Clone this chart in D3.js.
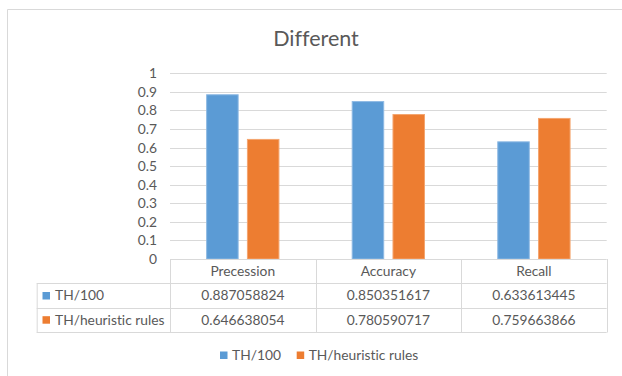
<!DOCTYPE html>
<html>
<head>
<meta charset="utf-8">
<script src="https://cdn.jsdelivr.net/npm/d3@7/dist/d3.min.js"></script>
<style>
  html, body { margin: 0; padding: 0; background: #fff; }
  svg { display: block; font-family: Lato, "Open Sans", sans-serif; font-variant-ligatures: none; }
</style>
</head>
<body>
<svg id="chart" width="622" height="376"></svg>
<script>
// Metrics per method
const categories = ["Precession", "Accuracy", "Recall"];
const seriesNames = ["TH/100", "TH/heuristic rules"];
const th100 = [0.887058824, 0.850351617, 0.633613445];
const thHeuristic = [0.646638054, 0.780590717, 0.759663866];
const valueLabels = [
  ["0.887058824", "0.850351617", "0.633613445"],
  ["0.646638054", "0.780590717", "0.759663866"]
];
const yTicks = [0, 0.1, 0.2, 0.3, 0.4, 0.5, 0.6, 0.7, 0.8, 0.9, 1];
const colors = ["#5B9BD5", "#ED7D31"];
const strokeColors = ["#8db9e3", "#f4a56f"];

const seriesValues = [th100, thHeuristic];

const svg = d3.select("#chart");
const gridColor = "#d9d9d9";
const textColor = "#595959";
const fontSize = 13.8;

// chart frame (top and left edges visible)
svg.append("line").attr("x1", 7.5).attr("x2", 622).attr("y1", 9.5).attr("y2", 9.5)
  .attr("stroke", gridColor).attr("stroke-width", 1);
svg.append("line").attr("x1", 7.5).attr("x2", 7.5).attr("y1", 9.5).attr("y2", 376)
  .attr("stroke", gridColor).attr("stroke-width", 1);

const plot = { left: 170, right: 606.7, top: 73.3, bottom: 259 };

const y = d3.scaleLinear().domain([0, 1]).range([plot.bottom, plot.top]);
const x = d3.scaleBand().domain(categories).range([plot.left, plot.right]).padding(0);
const x1 = d3.scaleBand().domain(seriesNames).range([0, x.bandwidth()])
  .paddingInner(0.203).paddingOuter(0.886);

// title
svg.append("text").attr("x", 316).attr("y", 46).attr("text-anchor", "middle")
  .attr("font-size", 21.5).attr("fill", textColor).text("Different");

// gridlines
svg.append("g").selectAll("line").data(yTicks.filter(d => d > 0)).join("line")
  .attr("x1", plot.left).attr("x2", plot.right)
  .attr("y1", d => Math.round(y(d)) + 0.5).attr("y2", d => Math.round(y(d)) + 0.5)
  .attr("stroke", gridColor).attr("stroke-width", 1);

// y axis labels
const yAxis = d3.axisLeft(y).tickValues(yTicks).tickSize(0).tickPadding(0)
  .tickFormat(d => d3.format("~g")(d));
const yg = svg.append("g").attr("transform", `translate(${plot.left - 13},0)`).call(yAxis);
yg.select(".domain").remove();
yg.selectAll("text").attr("fill", textColor).attr("font-size", fontSize)
  .attr("font-family", "Lato, 'Open Sans', sans-serif");

// bars
const groups = svg.append("g").selectAll("g").data(categories).join("g")
  .attr("transform", d => `translate(${x(d)},0)`);
groups.selectAll("rect")
  .data((c, i) => seriesNames.map((s, j) => ({ s, j, v: seriesValues[j][i] })))
  .join("rect")
  .attr("x", d => x1(d.s) + 0.5)
  .attr("width", x1.bandwidth() - 1)
  .attr("y", d => y(d.v) + 0.5)
  .attr("height", d => y(0) - y(d.v) - 0.5)
  .attr("fill", d => colors[d.j])
  .attr("stroke", d => strokeColors[d.j])
  .attr("stroke-width", 1);

// data table
const tableLeft = 36.7;
const rowEdges = [259, 283.3, 307.7, 331.7];
const tbl = svg.append("g").attr("stroke", gridColor).attr("stroke-width", 1);
// horizontal lines
tbl.append("line").attr("x1", plot.left).attr("x2", plot.right)
  .attr("y1", rowEdges[0] + 0.5).attr("y2", rowEdges[0] + 0.5);
rowEdges.slice(1).forEach(r => {
  tbl.append("line").attr("x1", tableLeft).attr("x2", plot.right)
    .attr("y1", Math.round(r) + 0.5).attr("y2", Math.round(r) + 0.5);
});
// vertical lines
const colEdges = categories.map(c => x(c)).concat([plot.right]);
colEdges.forEach(cx => {
  tbl.append("line").attr("x1", Math.round(cx) + 0.5).attr("x2", Math.round(cx) + 0.5)
    .attr("y1", rowEdges[0]).attr("y2", Math.round(rowEdges[3]) + 0.5);
});
tbl.append("line").attr("x1", tableLeft + 0.5).attr("x2", tableLeft + 0.5)
  .attr("y1", Math.round(rowEdges[1]) + 0.5).attr("y2", Math.round(rowEdges[3]) + 0.5);

// category header
svg.append("g").selectAll("text").data(categories).join("text")
  .attr("x", d => x(d) + x.bandwidth() / 2).attr("y", (rowEdges[0] + rowEdges[1]) / 2)
  .attr("dy", "0.35em").attr("text-anchor", "middle")
  .attr("font-size", fontSize).attr("fill", textColor).text(d => d);

// value rows
seriesNames.forEach((s, j) => {
  const cy = (rowEdges[j + 1] + rowEdges[j + 2]) / 2;
  svg.append("rect").attr("x", 42.5).attr("y", cy - 3.5).attr("width", 7.5).attr("height", 7.5)
    .attr("fill", colors[j]);
  svg.append("text").attr("x", 55).attr("y", cy).attr("dy", "0.35em")
    .attr("font-size", fontSize).attr("fill", textColor).text(s);
  svg.append("g").selectAll("text").data(categories).join("text")
    .attr("x", d => x(d) + x.bandwidth() / 2).attr("y", cy).attr("dy", "0.35em")
    .attr("text-anchor", "middle").attr("font-size", fontSize).attr("fill", textColor)
    .text((d, i) => valueLabels[j][i]);
});

// legend
const legendItems = [{ name: seriesNames[0], x: 220 }, { name: seriesNames[1], x: 296.7 }];
const lg = svg.append("g");
legendItems.forEach((it, j) => {
  lg.append("rect").attr("x", it.x).attr("y", 351.5).attr("width", 7.5).attr("height", 7.5)
    .attr("fill", colors[j]);
  lg.append("text").attr("x", it.x + 12).attr("y", 355.5).attr("dy", "0.35em")
    .attr("font-size", fontSize).attr("fill", textColor).text(it.name);
});
</script>
</body>
</html>
